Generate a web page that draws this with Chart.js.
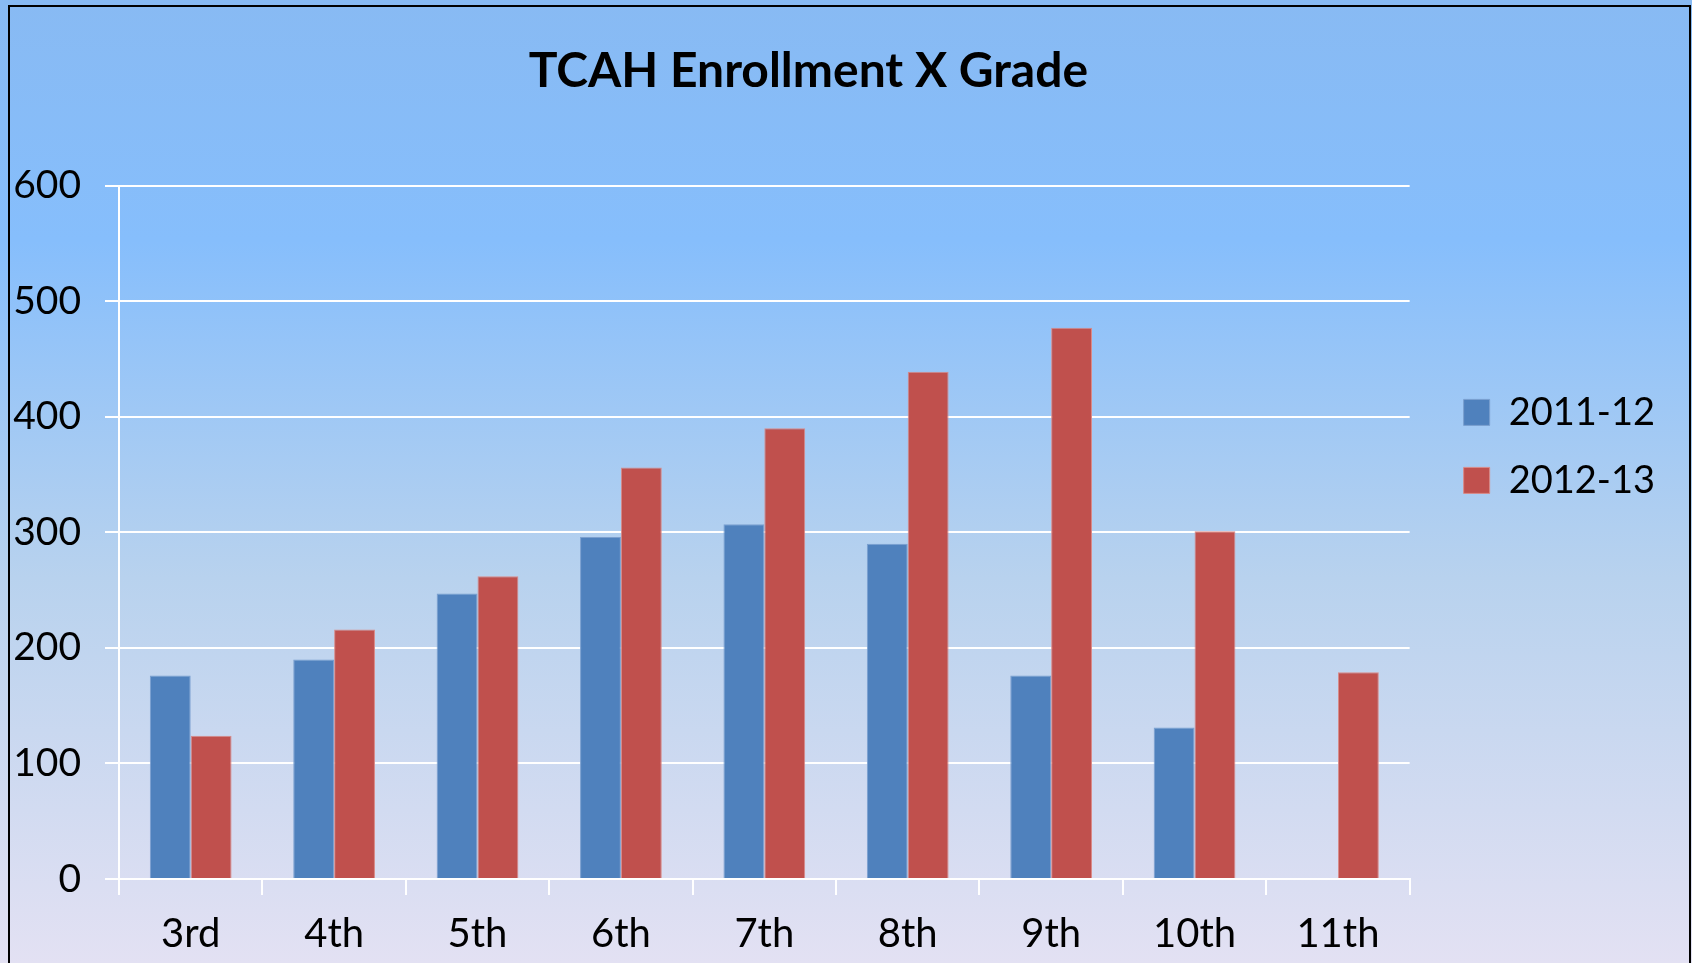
<!DOCTYPE html>
<html>
<head>
<meta charset="utf-8">
<script src="https://cdn.jsdelivr.net/npm/chart.js@4.4.0/dist/chart.umd.min.js"></script>
<style>
	body { margin: 0; overflow: hidden; }
	#wrap { position: relative; width: 1692px; height: 963px; }
	#frame { position: absolute; left: 8px; top: 5px; width: 1679px; height: 1000px; border: 2px solid #000; pointer-events: none; }
</style>
</head>
<body>
<div id="wrap">
	<canvas id="myChart" width="1692" height="963"></canvas>
	<div id="frame"></div>
</div>
<script>
var grades = ['3rd', '4th', '5th', '6th', '7th', '8th', '9th', '10th', '11th'];
var enroll1112 = [176, 190, 247, 296, 307, 290, 176, 131, null];
var enroll1213 = [124, 216, 262, 356, 390, 439, 477, 301, 179];
var yTicks = [0, 100, 200, 300, 400, 500, 600];

var fontName = 'Lato, "Open Sans", sans-serif';

// paint the gradient behind everything
var bgPlugin = {
	id: 'bgGradient',
	beforeDraw: function(chart) {
		var ctx = chart.ctx;
		var g = ctx.createLinearGradient(0, 0, 0, chart.height);
		g.addColorStop(0, '#88baf3');
		g.addColorStop(0.25, '#86befc');
		g.addColorStop(0.6, '#b8d2ee');
		g.addColorStop(1, '#e3e1f3');
		ctx.save();
		ctx.fillStyle = g;
		ctx.fillRect(0, 0, chart.width, chart.height);
		ctx.restore();
	}
};

var ctx = document.getElementById('myChart').getContext('2d');
var chart = new Chart(ctx, {
	type: 'bar',
	data: {
		labels: grades,
		datasets: [{
			label: '2011-12',
			data: enroll1112,
			backgroundColor: '#4f81bd',
			borderColor: '#7a9fcf',
			borderWidth: 1
		}, {
			label: '2012-13',
			data: enroll1213,
			backgroundColor: '#c0504d',
			borderColor: '#d98a88',
			borderWidth: 1
		}]
	},
	options: {
		responsive: false,
		animation: false,
		layout: { padding: { left: 10, right: 27, top: 0, bottom: 0 } },
		datasets: {
			bar: { barPercentage: 1, categoryPercentage: 0.57 }
		},
		plugins: {
			title: {
				display: true,
				// trailing spaces nudge the centred title a bit to the left
				text: 'TCAH Enrollment X Grade\u00a0\u00a0\u00a0\u00a0\u00a0',
				color: '#000',
				font: { family: fontName, size: 48, weight: 'bold' },
				padding: { top: 43, bottom: 85 }
			},
			legend: {
				position: 'right',
				align: 'start',
				title: { display: true, text: ' ', padding: { top: 349 } },
				labels: {
					color: '#000',
					font: { family: fontName, size: 38 },
					boxWidth: 26,
					boxHeight: 26,
					padding: 30
				}
			},
			tooltip: { enabled: false }
		},
		scales: {
			x: {
				afterFit: function(scale) { scale.height = 84; },
				grid: {
					offset: true,
					drawOnChartArea: false,
					color: '#ffffff',
					lineWidth: 2,
					tickLength: 16
				},
				border: { color: '#ffffff', width: 2 },
				ticks: {
					color: '#000',
					font: { family: fontName, size: 40 },
					padding: 15
				}
			},
			y: {
				min: 0,
				max: 600,
				afterBuildTicks: function(axis) {
					axis.ticks = yTicks.map(v => ({ value: v }));
				},
				afterFit: function(scale) { scale.width = 109; },
				grid: { color: '#ffffff', lineWidth: 2, tickLength: 14 },
				border: { color: '#ffffff', width: 2 },
				ticks: {
					color: '#000',
					font: { family: fontName, size: 39 },
					padding: 24
				}
			},
			// empty axis, only keeps a gap between the plot and the legend
			gap: {
				position: 'right',
				min: 0,
				max: 1,
				afterFit: function(scale) { scale.width = 24; },
				grid: { display: false },
				border: { display: false },
				ticks: { display: false }
			}
		}
	},
	plugins: [bgPlugin]
});
</script>
</body>
</html>
